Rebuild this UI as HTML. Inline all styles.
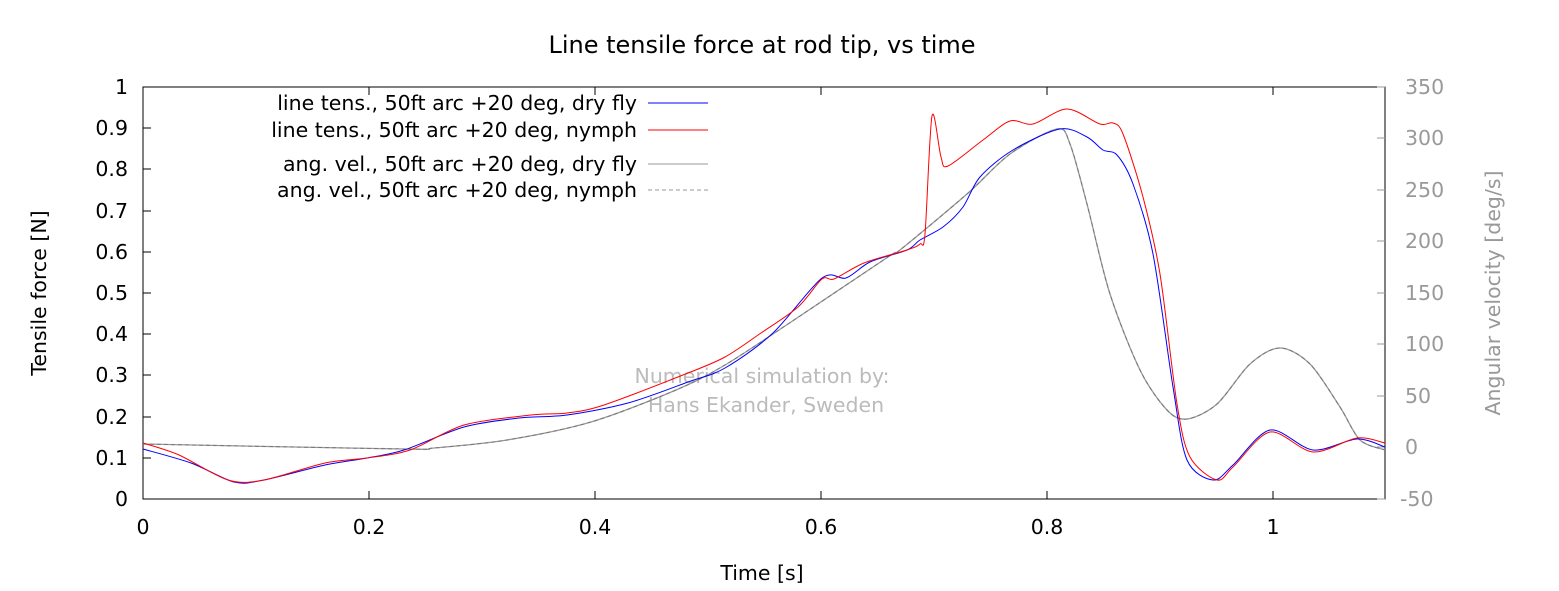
<!DOCTYPE html>
<html><head><meta charset="utf-8"><style>
html,body{margin:0;padding:0;background:#fff;}
svg{display:block;font-family:"DejaVu Sans","Liberation Sans",sans-serif;}
</style></head><body>
<svg id="s" width="1559" height="591" viewBox="0 0 1559 591" xmlns="http://www.w3.org/2000/svg">
<rect width="1559" height="591" fill="#fff"/>
<text x="762" y="53" font-size="24" text-anchor="middle">Line tensile force at rod tip, vs time</text>
<rect x="143" y="87" width="1242" height="412" fill="none" stroke="#000" stroke-width="1"/>
<g font-size="20.5" text-anchor="end">
<text x="128" y="506">0</text><text x="128" y="465">0.1</text><text x="128" y="424">0.2</text>
<text x="128" y="382">0.3</text><text x="128" y="341">0.4</text><text x="128" y="300">0.5</text>
<text x="128" y="259">0.6</text><text x="128" y="218">0.7</text><text x="128" y="176">0.8</text>
<text x="128" y="135">0.9</text><text x="128" y="94">1</text>
</g>
<g stroke="#000" stroke-width="1">
<path d="M143 499h8M143 458h8M143 417h8M143 375h8M143 334h8M143 293h8M143 252h8M143 211h8M143 169h8M143 128h8M143 87h8"/>
<path d="M143 499v-8M369 499v-8M595 499v-8M821 499v-8M1047 499v-8M1273 499v-8M369 87v8M595 87v8M821 87v8M1047 87v8M1273 87v8"/>
</g>
<g stroke="#999" stroke-width="1">
<path d="M1385 499h-8M1385 447h-8M1385 396h-8M1385 344h-8M1385 293h-8M1385 241h-8M1385 190h-8M1385 138h-8M1385 87h-8"/>
</g>
<g font-size="20.5" fill="#999">
<text x="1400" y="506">-50</text><text x="1405" y="454">0</text><text x="1405" y="403">50</text>
<text x="1405" y="351">100</text><text x="1405" y="300">150</text><text x="1405" y="248">200</text>
<text x="1405" y="197">250</text><text x="1405" y="145">300</text><text x="1405" y="94">350</text>
</g>
<g font-size="20.5" text-anchor="middle">
<text x="143" y="534">0</text><text x="369" y="534">0.2</text><text x="595" y="534">0.4</text>
<text x="821" y="534">0.6</text><text x="1047" y="534">0.8</text><text x="1273" y="534">1</text>
<text x="762" y="580">Time [s]</text>
</g>
<text transform="translate(46,293) rotate(-90)" font-size="20.5" text-anchor="middle">Tensile force [N]</text>
<text transform="translate(1500,293) rotate(-90)" font-size="20.5" text-anchor="middle" fill="#999">Angular velocity [deg/s]</text>
<g font-size="20.5" fill="#bbb" text-anchor="middle">
<text x="762" y="383">Numerical simulation by:</text>
<text x="766" y="412">Hans Ekander, Sweden</text>
</g>
<g font-size="20.5" text-anchor="end">
<text x="637" y="110">line tens., 50ft arc +20 deg, dry fly</text>
<text x="637" y="137">line tens., 50ft arc +20 deg, nymph</text>
<text x="637" y="171">ang. vel., 50ft arc +20 deg, dry fly</text>
<text x="637" y="197">ang. vel., 50ft arc +20 deg, nymph</text>
</g>
<path d="M648 103h60" stroke="#00f"/>
<path d="M648 130h60" stroke="#f00"/>
<path d="M648 164h60" stroke="#999"/>
<path d="M648 190h60" stroke="#999" stroke-dasharray="4,3"/>
<g fill="none" stroke-linejoin="round">
<path class="c" stroke="#999" stroke-width="1.3" data-p="143,444 404,449 434,448 507,440 591,422 676,390 725,365 791,322 888,257 900,250 967,194 1010,154 1057,129 1070,144 1087,204 1110,294 1140,370 1167,410 1187,419 1217,404 1250,364 1280,348 1310,364 1340,407 1360,440 1385,450"/>
<path class="c" stroke="#777" stroke-width="1" stroke-dasharray="4,3" data-p="143,444 404,449 434,448 507,440 591,422 676,390 725,365 791,322 888,257 900,250 967,194 1010,154 1057,129 1070,144 1087,204 1110,294 1140,370 1167,410 1187,419 1217,404 1250,364 1280,348 1310,364 1340,407 1360,440 1385,450"/>
<path class="c" stroke="#00f" stroke-width="1" data-p="143,449 191,463 234,482 264,480 325,465 367,458 404,450 464,427 519,418 567,415 628,403 688,382 725,368 773,333 822,278 846,278 870,262 907,250 920,240 943,227 963,207 980,177 1013,150 1060,129 1087,137 1103,150 1117,155 1133,184 1153,254 1173,387 1187,460 1213,480 1233,465 1270,430 1313,450 1357,439 1385,447"/>
<path class="c" stroke="#f00" stroke-width="1" data-p="143,443 179,455 228,480 264,480 325,463 367,458 410,450 464,425 531,415 567,413 604,405 688,373 725,357 761,333 798,307 822,279 834,279 864,263 907,250 920,244 925,234 932,116 941,157 948,166 983,140 1010,121 1033,124 1067,109 1100,124 1113,123 1123,134 1143,197 1160,274 1177,404 1190,457 1217,480 1233,467 1270,432 1313,452 1357,438 1385,443"/>
</g>
</svg>
<script>
document.querySelectorAll('path.c').forEach(function(el){
  var p=el.getAttribute('data-p').trim().split(/\s+/).map(function(s){return s.split(',').map(Number);});
  var d='M'+p[0][0]+' '+p[0][1];
  for(var i=0;i<p.length-1;i++){
    var p0=p[i-1]||p[i],p1=p[i],p2=p[i+1],p3=p[i+2]||p2;
    var t=0.15;
    var c1=[p1[0]+(p2[0]-p0[0])*t,p1[1]+(p2[1]-p0[1])*t];
    var c2=[p2[0]-(p3[0]-p1[0])*t,p2[1]-(p3[1]-p1[1])*t];
    d+=' C'+c1[0].toFixed(1)+' '+c1[1].toFixed(1)+' '+c2[0].toFixed(1)+' '+c2[1].toFixed(1)+' '+p2[0]+' '+p2[1];
  }
  el.setAttribute('d',d);
});
</script>
</body></html>
